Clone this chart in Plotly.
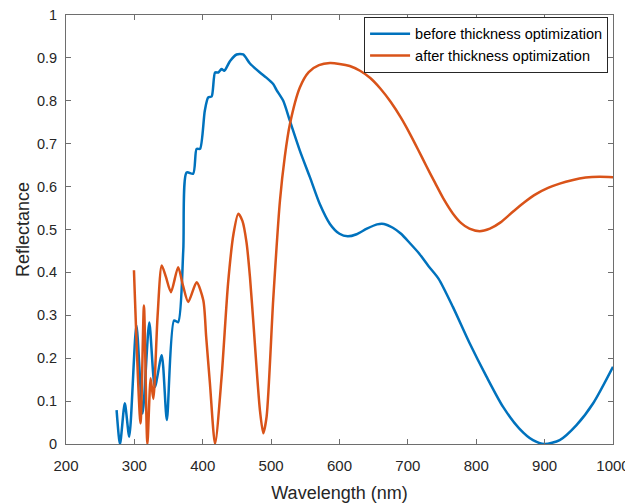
import plotly.graph_objects as go

# Wavelength (nm) and reflectance
before_wl = [274, 279, 286, 292.5, 303, 312, 321.8, 330, 340, 347.5, 358, 364, 371.5, 376.4,
             386, 391, 396, 403, 408, 413, 418, 422.7, 427.6, 431.5, 440, 449.5, 459, 469,
             483.6, 493, 503, 508, 517.7, 527.5, 542, 556.7, 571, 586, 600, 612, 625,
             640, 655, 665, 678, 690, 703, 717, 730, 745, 766, 790, 815, 839, 863, 883, 900,
             922, 946.6, 971, 1000]
before_R = [0.079, 0.0, 0.095, 0.017, 0.277, 0.071, 0.283, 0.133, 0.207, 0.056, 0.288, 0.284,
            0.451, 0.633, 0.630, 0.688, 0.688, 0.777, 0.808, 0.810, 0.866, 0.866, 0.874, 0.870,
            0.893, 0.908, 0.908, 0.887, 0.866, 0.854, 0.839, 0.825, 0.800, 0.753, 0.684, 0.622,
            0.560, 0.513, 0.490, 0.484, 0.489, 0.502, 0.512, 0.513, 0.504, 0.490, 0.468, 0.443,
            0.415, 0.385, 0.319, 0.236, 0.157, 0.087, 0.036, 0.009, 0.0, 0.009, 0.044, 0.095,
            0.180]

after_wl = [299.4, 309, 314, 319, 323.8, 327.7, 334, 340, 346, 353.5, 364, 371, 378.8, 391,
            400.8, 405, 410.5, 418, 427.6, 437, 445, 452, 458, 464, 469, 473.8, 483.6, 488.5,
            493.4, 503, 512.9, 520, 527.5, 542, 555, 570, 586, 600, 615, 630, 645, 660, 675,
            690, 703, 715, 727, 740, 752, 766, 778, 790, 805, 820, 835, 854, 870, 888, 905,
            922, 940, 960, 980, 1000]
after_R = [0.405, 0.048, 0.323, 0.0, 0.153, 0.105, 0.300, 0.416, 0.390, 0.354, 0.412, 0.370,
           0.331, 0.377, 0.335, 0.250, 0.141, 0.0, 0.157, 0.374, 0.490, 0.537, 0.520, 0.470,
           0.390, 0.288, 0.079, 0.025, 0.064, 0.335, 0.567, 0.670, 0.746, 0.831, 0.867, 0.883,
           0.888, 0.886, 0.881, 0.870, 0.853, 0.828, 0.797, 0.760, 0.723, 0.686, 0.648, 0.608,
           0.572, 0.537, 0.515, 0.502, 0.496, 0.502, 0.516, 0.542, 0.563, 0.583, 0.597, 0.607,
           0.615, 0.621, 0.623, 0.622]

series_names = ["before thickness optimization", "after thickness optimization"]
x_ticks = [200, 300, 400, 500, 600, 700, 800, 900, 1000]
y_ticks = [0, 0.1, 0.2, 0.3, 0.4, 0.5, 0.6, 0.7, 0.8, 0.9, 1]
y_tick_text = ["0", "0.1", "0.2", "0.3", "0.4", "0.5", "0.6", "0.7", "0.8", "0.9", "1"]

FONT = "Liberation Sans, Arial, sans-serif"
AX = "#6e6e6e"
TXT = "#262626"

fig = go.Figure()
fig.add_trace(go.Scatter(x=before_wl, y=before_R, mode="lines", name=series_names[0],
                         line=dict(color="#0072BD", width=2.5, shape="spline", smoothing=0.7)))
fig.add_trace(go.Scatter(x=after_wl, y=after_R, mode="lines", name=series_names[1],
                         line=dict(color="#D95319", width=2.5, shape="spline", smoothing=0.7)))

# the page body adds an 8px margin, so the figure is 8px smaller and margins shifted
fig.update_layout(
    width=625, height=495,
    margin=dict(l=58, r=20, t=7, b=59, autoexpand=False),
    paper_bgcolor="white", plot_bgcolor="white",
    font=dict(family=FONT, size=15, color=TXT),
    showlegend=True,
    legend=dict(x=0.991, y=0.996, xanchor="right", yanchor="top",
                bgcolor="white", bordercolor=TXT, borderwidth=1,
                font=dict(family=FONT, size=14.5, color="#000000"),
                tracegroupgap=0, itemwidth=40),
    xaxis=dict(range=[200, 1000], tickvals=x_ticks, ticks="inside", ticklen=5,
               tickcolor=AX, showline=True, linecolor=AX, linewidth=1, mirror="ticks",
               showgrid=False, zeroline=False, ticklabelstandoff=8, automargin=False,
               ticklabeloverflow="allow",
               tickfont=dict(family=FONT, size=15, color=TXT),
               title=dict(text="Wavelength (nm)", standoff=13,
                          font=dict(family=FONT, size=18, color=TXT))),
    yaxis=dict(range=[0, 1], tickvals=y_ticks, ticktext=y_tick_text, ticks="inside",
               ticklen=5, tickcolor=AX, showline=True, linecolor=AX, linewidth=1,
               mirror="ticks", showgrid=False, zeroline=False, ticklabelstandoff=5,
               automargin=False, ticklabeloverflow="allow",
               tickfont=dict(family=FONT, size=14.5, color=TXT),
               title=dict(text="Reflectance", standoff=2,
                          font=dict(family=FONT, size=18, color=TXT))),
)

fig.write_html("out.html")
